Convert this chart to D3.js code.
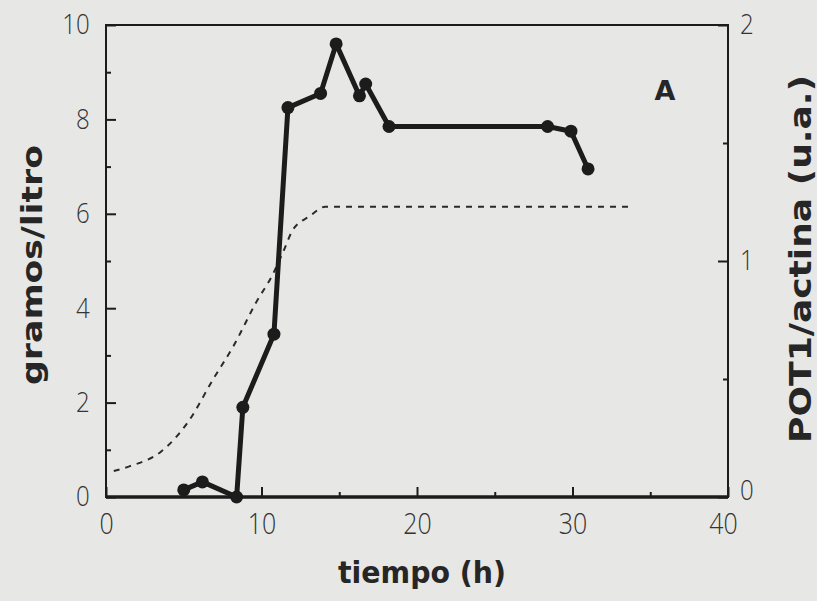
<!DOCTYPE html>
<html>
<head>
<meta charset="utf-8">
<script src="https://cdn.jsdelivr.net/npm/d3@7"></script>
<style>
  html, body { margin: 0; padding: 0; background: #e7e7e5; }
  svg { display: block; }
  .tick text { font-family: "Open Sans", "Liberation Sans", sans-serif; font-weight: 300; fill: #333; }
  .title { font-family: "Liberation Sans Narrow", "DejaVu Sans Condensed", sans-serif; font-weight: bold; fill: #262626; }
</style>
</head>
<body>
<svg id="chart" width="817" height="601"></svg>
<script>
// gramos/litro (solid, left axis)
var tiempo = [5.0, 6.2, 8.4, 8.8, 10.8, 11.7, 13.8, 14.8, 16.3, 16.7, 18.2, 28.4, 29.9, 31.0];
var gramos = [0.15, 0.32, 0.0, 1.9, 3.45, 8.25, 8.55, 9.6, 8.5, 8.75, 7.85, 7.85, 7.75, 6.95];

// POT1/actina (dashed, right axis)
var tiempoPot = [0.5, 1.5, 3.5, 5.3, 6.9, 8.2, 9.7, 10.7, 11.4, 12.0, 13.1, 14.1, 33.7];
var pot1 = [0.11, 0.13, 0.19, 0.32, 0.50, 0.64, 0.83, 0.94, 1.04, 1.13, 1.19, 1.23, 1.23];

var xTicks = [0, 10, 20, 30, 40];
var xMinor = [5, 15, 25, 35];
var yLeftTicks = [0, 2, 4, 6, 8, 10];
var yLeftMinor = [1, 3, 5, 7, 9];
var yRightTicks = [0, 1, 2];
var yRightMinor = [0.5, 1.5];

var frame = { left: 106, right: 728, top: 25, bottom: 497 };
var ink = '#1c1c1c';

var svg = d3.select('#chart');

var x = d3.scaleLinear().domain([0, 40]).range([frame.left, frame.right]);
var yLeft = d3.scaleLinear().domain([0, 10]).range([frame.bottom, frame.top]);
var yRight = d3.scaleLinear().domain([0, 2]).range([frame.bottom, frame.top]);

function styleAxis(g, fontSize) {
  g.select('.domain').remove();
  g.selectAll('.tick line').attr('stroke', ink).attr('stroke-width', 2);
  // the plotter digits are narrower than any installed font
  g.selectAll('.tick text')
    .style('font-size', fontSize + 'px')
    .attr('transform', 'scale(0.86,1)');
}

// minor ticks first, no labels
svg.append('g')
  .attr('transform', 'translate(0,' + frame.bottom + ')')
  .call(d3.axisBottom(x).tickValues(xMinor).tickSize(-5).tickFormat(''))
  .call(styleAxis, 28);

svg.append('g')
  .attr('transform', 'translate(' + frame.left + ',0)')
  .call(d3.axisLeft(yLeft).tickValues(yLeftMinor).tickSize(-5).tickFormat(''))
  .call(styleAxis, 28);

svg.append('g')
  .attr('transform', 'translate(' + frame.right + ',0)')
  .call(d3.axisRight(yRight).tickValues(yRightMinor).tickSize(-5).tickFormat(''))
  .call(styleAxis, 28);

// major ticks with labels
svg.append('g')
  .attr('transform', 'translate(0,' + frame.bottom + ')')
  .call(d3.axisBottom(x).tickValues(xTicks).tickSize(-10).tickPadding(16).tickFormat(d3.format('d')))
  .call(styleAxis, 29)
  .call(function (g) {
    g.selectAll('.tick').filter(function (d) { return d === 40; })
      .select('text').attr('dx', '-0.2em');
  });

svg.append('g')
  .attr('transform', 'translate(' + frame.left + ',0)')
  .call(d3.axisLeft(yLeft).tickValues(yLeftTicks).tickSize(-10).tickPadding(19).tickFormat(d3.format('d')))
  .call(styleAxis, 28);

svg.append('g')
  .attr('transform', 'translate(' + frame.right + ',0)')
  .call(d3.axisRight(yRight).tickValues(yRightTicks).tickSize(-10).tickPadding(14).tickFormat(d3.format('d')))
  .call(styleAxis, 28)
  .call(function (g) {
    g.selectAll('.tick').filter(function (d) { return d === 0; })
      .select('text').attr('dy', '0.1em');
  });

// frame
svg.append('rect')
  .attr('x', frame.left)
  .attr('y', frame.top)
  .attr('width', frame.right - frame.left)
  .attr('height', frame.bottom - frame.top)
  .attr('fill', 'none')
  .attr('stroke', ink)
  .attr('stroke-width', 2);

svg.append('line')
  .attr('x1', frame.left)
  .attr('x2', frame.right)
  .attr('y1', frame.bottom)
  .attr('y2', frame.bottom)
  .attr('stroke', ink)
  .attr('stroke-width', 3.5);

// dashed POT1 curve
var potLine = d3.line()
  .x(function (d, i) { return x(tiempoPot[i]); })
  .y(function (d) { return yRight(d); })
  .curve(d3.curveMonotoneX);

svg.append('path')
  .attr('d', potLine(pot1))
  .attr('fill', 'none')
  .attr('stroke', '#2a2a2a')
  .attr('stroke-width', 2)
  .attr('stroke-dasharray', '6,6');

// solid gramos/litro line with dots
var gramosLine = d3.line()
  .x(function (d, i) { return x(tiempo[i]); })
  .y(function (d) { return yLeft(d); });

svg.append('path')
  .attr('d', gramosLine(gramos))
  .attr('fill', 'none')
  .attr('stroke', ink)
  .attr('stroke-width', 5)
  .attr('stroke-linejoin', 'round');

svg.append('g')
  .selectAll('circle')
  .data(gramos)
  .join('circle')
  .attr('cx', function (d, i) { return x(tiempo[i]); })
  .attr('cy', function (d) { return yLeft(d); })
  .attr('r', 6.5)
  .attr('fill', ink);

// panel letter
svg.append('text')
  .attr('class', 'title')
  .attr('x', 665)
  .attr('y', 100)
  .attr('text-anchor', 'middle')
  .style('font-size', '27px')
  .style('font-family', '"DejaVu Sans", sans-serif')
  .text('A');

// axis titles
svg.append('text')
  .attr('class', 'title')
  .attr('x', 422)
  .attr('y', 583)
  .attr('text-anchor', 'middle')
  .attr('textLength', 168)
  .attr('lengthAdjust', 'spacingAndGlyphs')
  .style('font-size', '30px')
  .text('tiempo (h)');

svg.append('text')
  .attr('class', 'title')
  .attr('transform', 'translate(42,265) rotate(-90)')
  .attr('text-anchor', 'middle')
  .attr('textLength', 240)
  .attr('lengthAdjust', 'spacingAndGlyphs')
  .style('font-size', '29px')
  .text('gramos/litro');

svg.append('text')
  .attr('class', 'title')
  .attr('transform', 'translate(811,259) rotate(-90)')
  .attr('text-anchor', 'middle')
  .attr('textLength', 368)
  .attr('lengthAdjust', 'spacingAndGlyphs')
  .style('font-size', '30px')
  .text('POT1/actina (u.a.)');
</script>
</body>
</html>
